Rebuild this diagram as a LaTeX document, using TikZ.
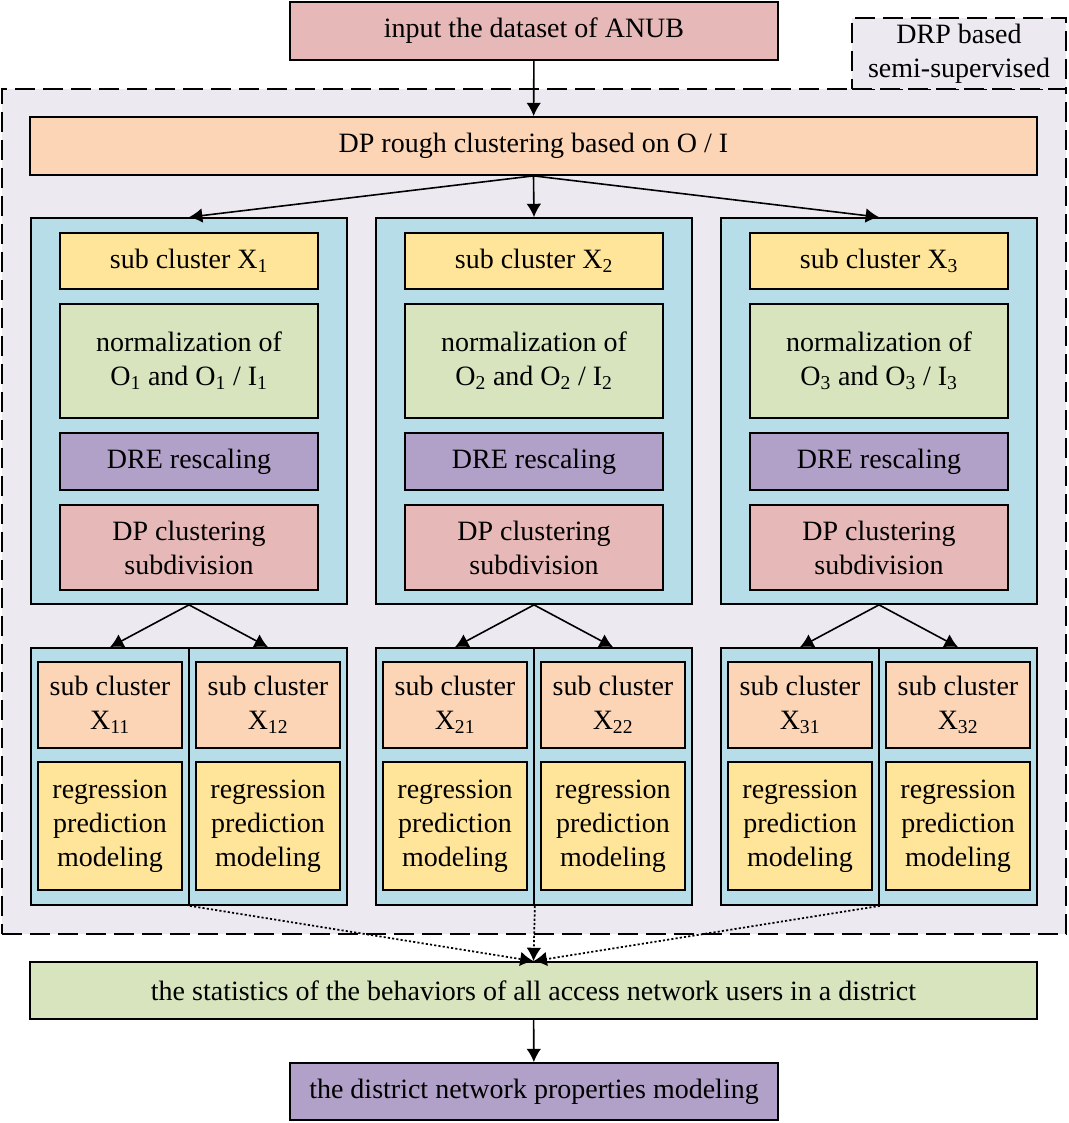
\documentclass[tikz,border=0pt]{standalone}
\usepackage{fontspec}
\setmainfont{Liberation Serif}
\usetikzlibrary{arrows.meta,fit,positioning}
\definecolor{boxpink}{HTML}{E6B9B8}
\definecolor{boxpeach}{HTML}{FBD5B5}
\definecolor{boxblue}{HTML}{B7DDE8}
\definecolor{boxyellow}{HTML}{FFE599}
\definecolor{boxgreen}{HTML}{D7E4BD}
\definecolor{boxpurple}{HTML}{B1A0C7}
\definecolor{regionbg}{HTML}{ECE9F0}
\tikzstyle{blk}=[draw=black, line width=1.3pt, inner sep=0pt]
\tikzstyle{region}=[draw=black, line width=1.5pt, dash pattern=on 15pt off 6pt, inner sep=0pt]
\tikzstyle{txt}=[label={[align=center]center:#1}]
\tikzstyle{line}=[draw, line width=1.2pt, ->, >={Latex[length=10pt,width=11pt]}]
\tikzstyle{dots}=[draw, line width=1.3pt, dash pattern=on 1.6pt off 1.6pt, ->, >={Latex[length=10pt,width=11pt]}]
\newcommand{\sbs}[1]{\textsubscript{#1}}

\begin{document}
\begin{tikzpicture}[x=0.75pt, y=-0.75pt, font=\fontsize{21}{25.5}\selectfont]
\useasboundingbox (0,0) rectangle (1069,1123);

% semi-supervised region
\node[region, fill=regionbg, fit={(2,89) (1066,934)}] (drp) {};
\node[region, fill=regionbg, fit={(852,18) (1066,89)}, txt={DRP based\\semi-supervised}] (drplabel) {};

\node[blk, fill=boxpink, fit={(290,2) (778,60)}, txt={input the dataset of ANUB}] (input) {};
\node[blk, fill=boxpeach, fit={(30,117) (1037,175)}, txt={DP rough clustering based on O / I}] (rough) {};
\draw[line] (input) -- (rough);

\foreach \i/\dx in {1/0, 2/345, 3/690}
{
  % upper column
  \node[blk, fill=boxblue, fit={(31+\dx,218) (347+\dx,604)}] (col\i) {};
  \node[blk, fill=boxyellow, fit={(60+\dx,233) (318+\dx,289)}, txt={sub cluster X\sbs{\i}}] (sub\i) {};
  \node[blk, fill=boxgreen, fit={(60+\dx,304) (318+\dx,418)}, txt={normalization of\\O\sbs{\i} and O\sbs{\i} / I\sbs{\i}}] (norm\i) {};
  \node[blk, fill=boxpurple, fit={(60+\dx,433) (318+\dx,490)}, txt={DRE rescaling}] (dre\i) {};
  \node[blk, fill=boxpink, fit={(60+\dx,505) (318+\dx,590)}, txt={DP clustering\\subdivision}] (dpc\i) {};
  \draw[line] (rough.south) -- (col\i.north);

  % lower column
  \node[blk, fill=boxblue, fit={(31+\dx,648) (189+\dx,905)}] (left\i) {};
  \node[blk, fill=boxblue, fit={(189+\dx,648) (347+\dx,905)}] (right\i) {};
  \node[blk, fill=boxpeach, fit={(38+\dx,662) (182+\dx,748)}, txt={sub cluster\\X\sbs{\i1}}] (subA\i) {};
  \node[blk, fill=boxpeach, fit={(196+\dx,662) (340+\dx,748)}, txt={sub cluster\\X\sbs{\i2}}] (subB\i) {};
  \node[blk, fill=boxyellow, fit={(38+\dx,762) (182+\dx,890)}, txt={regression\\prediction\\modeling}] (regA\i) {};
  \node[blk, fill=boxyellow, fit={(196+\dx,762) (340+\dx,890)}, txt={regression\\prediction\\modeling}] (regB\i) {};
  \draw[line] (col\i.south) -- (left\i.north);
  \draw[line] (col\i.south) -- (right\i.north);
}

\node[blk, fill=boxgreen, fit={(30,962) (1037,1019)}, txt={the statistics of the behaviors of all access network users in a district}] (stats) {};
\node[blk, fill=boxpurple, fit={(290,1063) (778,1120)}, txt={the district network properties modeling}] (district) {};

\foreach \i in {1,2,3}
  \draw[dots] (left\i.south east) -- (stats.north);
\draw[line] (stats) -- (district);
\end{tikzpicture}
\end{document}
